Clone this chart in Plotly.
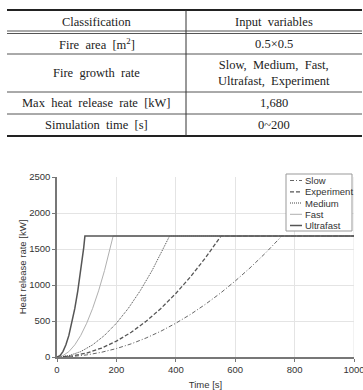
import plotly.graph_objects as go

# ---------------- data ----------------
table_header = ["Classification", "Input\u00a0 variables"]
table_left = ["Fire\u00a0 area\u00a0 [m<sup>2</sup>]", "Fire\u00a0 growth\u00a0 rate",
              "Max\u00a0 heat\u00a0 release\u00a0 rate\u00a0 [kW]", "Simulation\u00a0 time\u00a0 [s]"]
table_right = ["0.5×0.5", "Slow,\u00a0 Medium,\u00a0 Fast,<br>Ultrafast,\u00a0 Experiment", "1,680", "0~200"]

series_names = ["Slow", "Experiment", "Medium", "Fast", "Ultrafast"]
slow_t = [0, 50, 100, 150, 200, 250, 300, 350, 400, 450, 500, 550, 600, 650, 700, 757, 1000]
slow_q = [0, 7, 29, 66, 117, 183, 264, 359, 469, 593, 733, 886, 1055, 1238, 1436, 1680, 1680]
exp_t = [0, 50, 100, 150, 200, 250, 300, 350, 400, 450, 500, 552, 1000]
exp_q = [0, 14, 55, 124, 220, 344, 496, 675, 882, 1116, 1378, 1680, 1680]
med_t = [0, 40, 80, 120, 160, 200, 240, 280, 320, 360, 379, 1000]
med_q = [0, 19, 75, 169, 300, 469, 675, 919, 1200, 1519, 1680, 1680]
fast_t = [0, 20, 40, 60, 80, 100, 120, 140, 160, 180, 189, 1000]
fast_q = [0, 19, 75, 169, 300, 469, 675, 919, 1201, 1520, 1680, 1680]
ultra_t = [0, 10, 20, 30, 40, 50, 60, 70, 80, 90, 94, 1000]
ultra_q = [0, 19, 75, 169, 300, 469, 675, 919, 1201, 1520, 1680, 1680]

x_ticks = [0, 200, 400, 600, 800, 1000]
y_ticks = [0, 500, 1000, 1500, 2000, 2500]

# ---------------- layout geometry ----------------
W, H = 363, 390
ML, MR, MT, MB = 57, 9, 177, 33
PW, PH = W - ML - MR, H - MT - MB


def px(xp):
    return (xp - ML) / PW


def py(yp):
    return (H - MB - yp) / PH


styles = {
    "Slow": dict(color="#666666", width=1, dash="4px,2px,1px,2px"),
    "Experiment": dict(color="#555555", width=1.3, dash="4px,2px"),
    "Medium": dict(color="#444444", width=1, dash="1px,1px"),
    "Fast": dict(color="#b0b0b0", width=1, dash="solid"),
    "Ultrafast": dict(color="#555555", width=1.5, dash="solid"),
}

data = {
    "Slow": (slow_t, slow_q),
    "Experiment": (exp_t, exp_q),
    "Medium": (med_t, med_q),
    "Fast": (fast_t, fast_q),
    "Ultrafast": (ultra_t, ultra_q),
}

fig = go.Figure()
for name in series_names:
    t, q = data[name]
    fig.add_trace(go.Scatter(x=t, y=q, mode="lines", name=name,
                             line=styles[name], showlegend=False))

sans = "Arial, Liberation Sans, sans-serif"
serif = "Times New Roman, Liberation Serif, serif"

fig.update_layout(
    width=W, height=H,
    margin=dict(l=ML, r=MR, t=MT, b=MB, pad=0, autoexpand=False),
    paper_bgcolor="white", plot_bgcolor="white",
    font=dict(family=sans, size=9, color="#333333"),
    xaxis=dict(range=[0, 1000], tickvals=x_ticks, showgrid=True, gridcolor="#e4e4e4",
               gridwidth=1, showline=True, linecolor="#777777", linewidth=1.5,
               ticks="outside", ticklen=3, tickcolor="#777777", zeroline=False,
               ticklabeloverflow="allow", automargin=False,
               title=dict(text="Time [s]", font=dict(size=9.5, color="#333333"), standoff=8),
               tickfont=dict(size=9.5, color="#333333")),
    yaxis=dict(range=[0, 2500], tickvals=y_ticks, showgrid=True, gridcolor="#e4e4e4",
               gridwidth=1, showline=True, linecolor="#777777", linewidth=1.5,
               ticks="outside", ticklen=3, tickcolor="#777777", zeroline=False,
               ticklabeloverflow="allow", automargin=False,
               title=dict(text="Heat release rate [kW]", font=dict(size=9.5, color="#333333"), standoff=1),
               tickfont=dict(size=9.5, color="#333333")),
)

shapes = []
annotations = []

# gridline at the right edge of the plot (x = 1000)
shapes.append(dict(type="line", xref="x", yref="paper", x0=x_ticks[-1], x1=x_ticks[-1], y0=0, y1=1,
                   line=dict(color="#e4e4e4", width=1), layer="below"))

# ---------------- table ----------------
TL, TR, TD = 7, 362, 186
row_lines = [54, 92, 114]
shapes.append(dict(type="line", xref="paper", yref="paper", x0=px(TL), x1=px(TR),
                   y0=py(10), y1=py(10), line=dict(color="#222222", width=2)))
shapes.append(dict(type="line", xref="paper", yref="paper", x0=px(TL), x1=px(TR),
                   y0=py(136), y1=py(136), line=dict(color="#222222", width=2)))
for yy in (31, 33.5):
    shapes.append(dict(type="line", xref="paper", yref="paper", x0=px(TL), x1=px(TR),
                       y0=py(yy), y1=py(yy), line=dict(color="#555555", width=1)))
for yy in row_lines:
    shapes.append(dict(type="line", xref="paper", yref="paper", x0=px(TL), x1=px(TR),
                       y0=py(yy), y1=py(yy), line=dict(color="#555555", width=1)))
shapes.append(dict(type="line", xref="paper", yref="paper", x0=px(TD), x1=px(TD),
                   y0=py(10), y1=py(136), line=dict(color="#333333", width=1)))

row_centers = [44, 73, 103, 125]
lc, rc = (TL + TD) / 2, (TD + TR) / 2
tfont = dict(family=serif, size=12.5, color="#222222")


def cell(text, xc, yc):
    return dict(text=text, x=px(xc), y=py(yc), xref="paper", yref="paper",
                xanchor="center", yanchor="middle", showarrow=False, font=tfont)


annotations.append(cell(table_header[0], lc, 22))
annotations.append(cell(table_header[1], rc, 22))
for i in range(len(table_left)):
    annotations.append(cell(table_left[i], lc, row_centers[i]))
    annotations.append(cell(table_right[i], rc, row_centers[i]))

# ---------------- legend (drawn) ----------------
LX0, LX1, LY0, LY1 = 286, 352, 174, 231
shapes.append(dict(type="rect", xref="paper", yref="paper", x0=px(LX0), x1=px(LX1),
                   y0=py(LY0), y1=py(LY1), line=dict(color="#999999", width=1), fillcolor="white"))
item_y = [180.5, 191.8, 203, 214.3, 225.5]
for i, name in enumerate(series_names):
    st = styles[name]
    shapes.append(dict(type="line", xref="paper", yref="paper", x0=px(290), x1=px(302),
                       y0=py(item_y[i]), y1=py(item_y[i]),
                       line=dict(color=st["color"], width=st["width"], dash=st["dash"])))
    annotations.append(dict(text=name, x=px(303), y=py(item_y[i]), xref="paper", yref="paper",
                            xanchor="left", yanchor="middle", showarrow=False,
                            font=dict(family=sans, size=9.5, color="#333333")))

fig.update_layout(shapes=shapes, annotations=annotations)
fig.write_html("out.html")
